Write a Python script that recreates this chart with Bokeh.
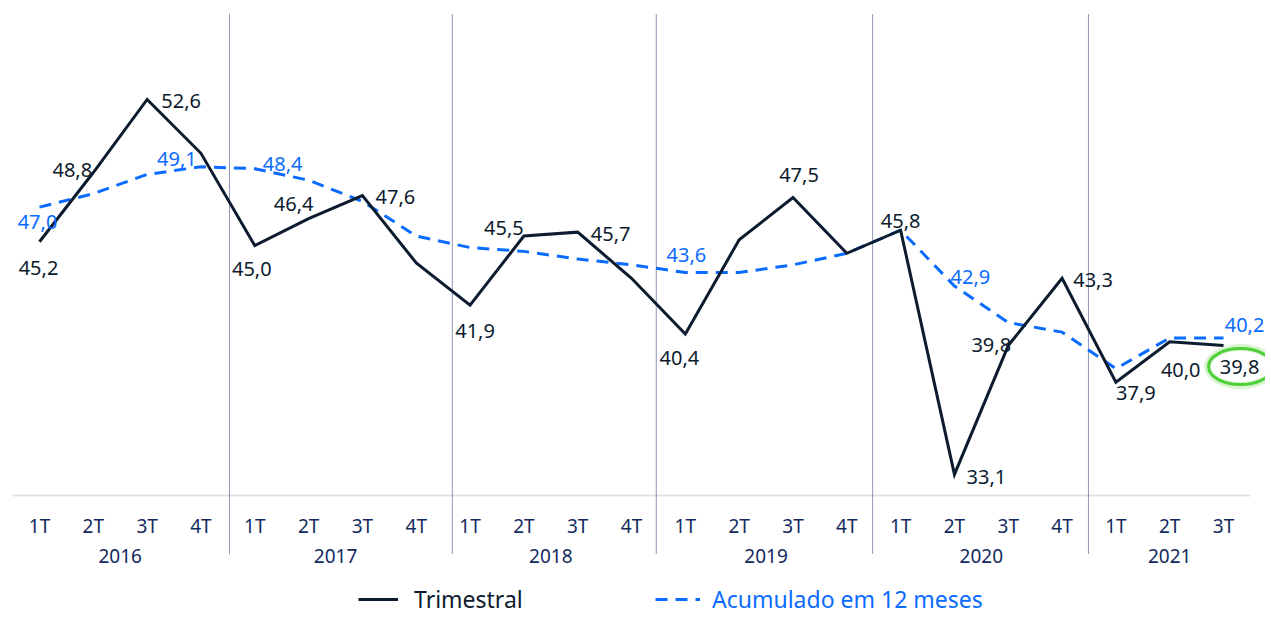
from bokeh.plotting import figure
from bokeh.models import ColumnDataSource, Range1d, Legend, LegendItem
from bokeh.core.properties import value
from bokeh.embed import file_html
from bokeh.resources import INLINE

# ---------------- data ----------------
years = ["2016", "2017", "2018", "2019", "2020", "2021"]
quarters = ["1T", "2T", "3T", "4T"]
quarter_labels = ["1T", "2T", "3T", "4T"] * 5 + ["1T", "2T", "3T"]

trimestral = [45.2, 48.8, 52.6, 49.8, 45.0, 46.4, 47.6, 44.1,
              41.9, 45.5, 45.7, 43.3, 40.4, 45.3, 47.5, 44.6,
              45.8, 33.1, 39.8, 43.3, 37.9, 40.0, 39.8]
acumulado = [47.0, 47.7, 48.7, 49.1, 49.0, 48.4, 47.3, 45.5,
             44.9, 44.7, 44.3, 44.0, 43.6, 43.6, 44.0, 44.6,
             45.8, 42.9, 41.0, 40.5, 38.6, 40.2, 40.2]

# which points carry a value label
trim_label_idx = [0, 1, 2, 4, 5, 6, 8, 9, 10, 12, 14, 16, 17, 18, 19, 20, 21, 22]
acum_label_idx = [0, 3, 5, 12, 17, 22]

# ---------------- styling / layout ----------------
NAVY = "#0c1b2e"
TICK = "#132a60"
BLUE = "#0a6cff"
SEP = "#1f2f78"
FONT = "Noto Sans"

# label offsets in screen px (dx, dy; dy positive = down)
trim_off = {0: (-1, 26), 1: (-21, -3), 2: (34, 2), 4: (-3, 23), 5: (-15, -15),
            6: (33, 1), 8: (5, 26), 9: (-20, -8), 10: (33, 2), 12: (-6, 24),
            14: (6, -23), 16: (0, -9), 17: (32, 3), 18: (-17, -1), 19: (31, 2),
            20: (20, 11), 21: (11, 28), 22: (16, 21)}
acum_off = {0: (-2, 15), 3: (-24, -8), 5: (-26, -16), 12: (1, -18),
            17: (16, -9), 22: (21, -13)}

# separator positions between year groups (in category index units)
sep_x = [3.53, 7.67, 11.46, 15.48, 19.49]

W, H = 1265, 615
ORIGIN = 0  # page pixel where the frame starts
PX_PER_X = 53.82
PX_PER_Y = 19.23
X0 = -0.576 - 8 / PX_PER_X
Y_TOP = 57.33 + 8 / PX_PER_Y


def yv(page_px):
    # data value at a page pixel row
    return Y_TOP - (page_px - ORIGIN) / PX_PER_Y


def xv(page_px):
    return X0 + (page_px - ORIGIN) / PX_PER_X


def fmt(v):
    return f"{v:.1f}".replace(".", ",")


n = len(trimestral)
xs = list(range(n))

p = figure(width=W, height=H, output_backend="svg", toolbar_location=None,
           x_axis_type=None, y_axis_type=None,
           x_range=Range1d(X0, X0 + W / PX_PER_X),
           y_range=Range1d(Y_TOP - H / PX_PER_Y, Y_TOP),
           min_border=0, min_border_left=0, min_border_right=0,
           min_border_top=0, min_border_bottom=0)
p.outline_line_color = None
p.background_fill_color = "white"
p.border_fill_color = "white"
p.grid.visible = False

# baseline
p.segment(x0=[xv(12)], y0=[yv(495)], x1=[xv(1250)], y1=[yv(495)],
          line_color="#e4e4e4", line_width=2)

# year separators
p.segment(x0=sep_x, y0=[yv(14)] * len(sep_x), x1=sep_x, y1=[yv(554)] * len(sep_x),
          line_color=SEP, line_width=1, line_dash="1 1")

# lines
r_acum = p.line(xs, acumulado, line_color=BLUE, line_width=3, line_dash="12 8")
r_trim = p.line(xs, trimestral, line_color=NAVY, line_width=3, line_join="miter")

# highlight ellipse around last value
ex = xs[-1] + 17 / PX_PER_X
ey = trimestral[-1] - 21 / PX_PER_Y
p.ellipse(x=[ex], y=[ey], width=[66], height=[38], width_units="screen",
          height_units="screen", fill_color=None, line_color="#8fe07a",
          line_width=7, line_alpha=0.35)
p.ellipse(x=[ex], y=[ey], width=[64], height=[36], width_units="screen",
          height_units="screen", fill_color=None, line_color="#4fcf3a",
          line_width=3)

# value labels
ts = ColumnDataSource(dict(
    x=[xs[i] for i in trim_label_idx],
    y=[trimestral[i] for i in trim_label_idx],
    t=[fmt(trimestral[i]) for i in trim_label_idx],
    dx=[trim_off[i][0] for i in trim_label_idx],
    dy=[trim_off[i][1] for i in trim_label_idx]))
p.text(x="x", y="y", text="t", x_offset="dx", y_offset="dy", source=ts,
       text_color=NAVY, text_font=value(FONT), text_font_size="20px",
       text_align="center", text_baseline="middle")

acs = ColumnDataSource(dict(
    x=[xs[i] for i in acum_label_idx],
    y=[acumulado[i] for i in acum_label_idx],
    t=[fmt(acumulado[i]) for i in acum_label_idx],
    dx=[acum_off[i][0] for i in acum_label_idx],
    dy=[acum_off[i][1] for i in acum_label_idx]))
p.text(x="x", y="y", text="t", x_offset="dx", y_offset="dy", source=acs,
       text_color=BLUE, text_font=value(FONT), text_font_size="20px",
       text_align="center", text_baseline="middle")

# category axis labels (quarters and years)
base = yv(495)
p.text(x=xs, y=[base] * n, text=quarter_labels, y_offset=30,
       text_color=TICK, text_font=value(FONT), text_font_size="19px",
       text_align="center", text_baseline="middle")
year_x = [4 * k + 1.5 for k in range(len(years) - 1)] + [4 * (len(years) - 1) + 1]
p.text(x=year_x, y=[base] * len(years), text=years, y_offset=60,
       text_color=TICK, text_font=value(FONT), text_font_size="19px",
       text_align="center", text_baseline="middle")

# legends
leg1 = Legend(items=[LegendItem(label="Trimestral", renderers=[r_trim])],
              location=(358, 0), orientation="horizontal",
              label_text_color=NAVY, label_text_font=FONT,
              label_text_font_size="23px", glyph_width=40, glyph_height=26,
              label_height=26, label_standoff=16, padding=0, margin=0,
              spacing=0, border_line_color=None, background_fill_alpha=0)
leg2 = Legend(items=[LegendItem(label="Acumulado em 12 meses", renderers=[r_acum])],
              location=(655, 0), orientation="horizontal",
              label_text_color=BLUE, label_text_font=FONT,
              label_text_font_size="23px", glyph_width=45, glyph_height=26,
              label_height=26, label_standoff=12, padding=0, margin=0,
              spacing=0, border_line_color=None, background_fill_alpha=0)
p.add_layout(leg1)
p.add_layout(leg2)

open("out.html", "w").write(file_html(p, INLINE))
